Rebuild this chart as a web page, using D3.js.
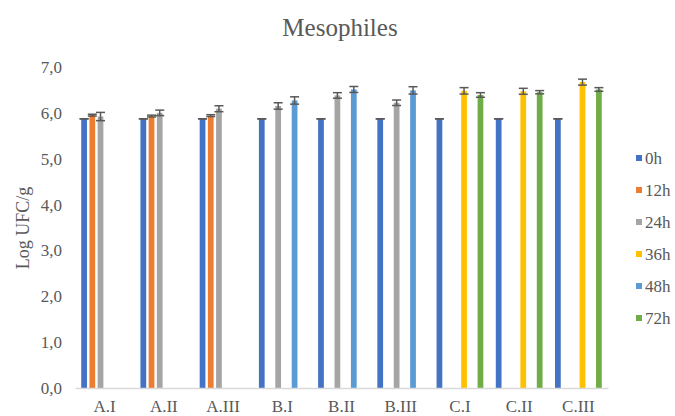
<!DOCTYPE html>
<html>
<head>
<meta charset="utf-8">
<script src="https://cdn.jsdelivr.net/npm/d3@7"></script>
<style>
  body { margin: 0; background: #fff; }
  svg text { font-family: "Liberation Serif", "DejaVu Serif", serif !important; fill: #595959; }
</style>
</head>
<body>
<div id="chart"></div>
<script>
let categories = ["A.I", "A.II", "A.III", "B.I", "B.II", "B.III", "C.I", "C.II", "C.III"];
let seriesNames = ["0h", "12h", "24h", "36h", "48h", "72h"];
let seriesColors = ["#4472C4", "#ED7D31", "#A5A5A5", "#FFC000", "#5B9BD5", "#70AD47"];

let values0h  = [5.87, 5.87, 5.87, 5.87, 5.87, 5.87, 5.87, 5.87, 5.87];
let values12h = [5.95, 5.93, 5.94, null, null, null, null, null, null];
let values24h = [5.92, 6.00, 6.09, 6.15, 6.38, 6.22, null, null, null];
let values36h = [null, null, null, null, null, null, 6.48, 6.47, 6.67];
let values48h = [null, null, null, 6.27, 6.51, 6.49, null, null, null];
let values72h = [null, null, null, null, null, null, 6.39, 6.45, 6.51];

let errors0h  = [0, 0, 0, 0, 0, 0, 0, 0, 0];
let errors12h = [0.02, 0.02, 0.02, null, null, null, null, null, null];
let errors24h = [0.09, 0.06, 0.065, 0.07, 0.06, 0.06, null, null, null];
let errors36h = [null, null, null, null, null, null, 0.07, 0.065, 0.065];
let errors48h = [null, null, null, 0.08, 0.065, 0.08, null, null, null];
let errors72h = [null, null, null, null, null, null, 0.05, 0.035, 0.04];

let yTicks = [0, 1, 2, 3, 4, 5, 6, 7];

let allValues = [values0h, values12h, values24h, values36h, values48h, values72h];
let allErrors = [errors0h, errors12h, errors24h, errors36h, errors48h, errors72h];

let width = 675, height = 416;
let plot = {left: 75, right: 608, top: 67, bottom: 388};
let serif = "'Liberation Serif', 'DejaVu Serif', serif";

let svg = d3.select("#chart").append("svg")
  .attr("width", width)
  .attr("height", height)
  .attr("font-family", serif);

let xScale = d3.scaleBand()
  .domain(categories)
  .range([plot.left, plot.right]);

let seriesScale = d3.scaleBand()
  .domain(seriesNames)
  .range([5, xScale.bandwidth() - 5])
  .paddingInner(0.3)
  .paddingOuter(0.15);

let yScale = d3.scaleLinear()
  .domain([0, 7])
  .range([plot.bottom, plot.top]);

// title
svg.append("text")
  .attr("x", 340)
  .attr("y", 36)
  .attr("text-anchor", "middle")
  .attr("font-family", serif)
  .style("font-size", "25px")
  .text("Mesophiles");

// y axis labels
let yAxis = svg.append("g")
  .attr("transform", "translate(" + plot.left + ",0)")
  .call(d3.axisLeft(yScale).tickValues(yTicks).tickSize(0).tickPadding(13)
    .tickFormat(d => d3.format(".1f")(d).replace(".", ",")));
yAxis.attr("font-family", serif);
yAxis.select(".domain").remove();
yAxis.selectAll("text")
  .style("font-size", "17px")
  .attr("fill", "#595959");

svg.append("text")
  .attr("transform", "translate(29,228) rotate(-90)")
  .attr("text-anchor", "middle")
  .attr("font-family", serif)
  .style("font-size", "18px")
  .text("Log UFC/g");

// bars
let groups = svg.append("g").selectAll("g")
  .data(seriesNames)
  .enter()
  .append("g");

groups.each(function(name, s) {
  let rows = categories.map((c, i) => ({cat: c, value: allValues[s][i], err: allErrors[s][i]}))
    .filter(d => d.value !== null);
  let g = d3.select(this);

  g.selectAll("rect")
    .data(rows)
    .enter()
    .append("rect")
    .attr("x", d => xScale(d.cat) + seriesScale(name))
    .attr("y", d => yScale(d.value))
    .attr("width", seriesScale.bandwidth())
    .attr("height", d => yScale(0) - yScale(d.value))
    .attr("fill", seriesColors[s]);

  let cx = d => xScale(d.cat) + seriesScale(name) + seriesScale.bandwidth() / 2;
  let errG = g.selectAll(".err")
    .data(rows)
    .enter()
    .append("g")
    .attr("class", "err")
    .attr("stroke", "#595959")
    .attr("stroke-width", 1.5);
  errG.append("line")
    .attr("x1", cx).attr("x2", cx)
    .attr("y1", d => yScale(d.value + d.err))
    .attr("y2", d => yScale(d.value - d.err));
  errG.append("line")
    .attr("x1", d => cx(d) - 4.5).attr("x2", d => cx(d) + 4.5)
    .attr("y1", d => yScale(d.value + d.err))
    .attr("y2", d => yScale(d.value + d.err));
  errG.append("line")
    .attr("x1", d => cx(d) - 4.5).attr("x2", d => cx(d) + 4.5)
    .attr("y1", d => yScale(d.value - d.err))
    .attr("y2", d => yScale(d.value - d.err));
});

// x axis
let xAxis = svg.append("g")
  .attr("transform", "translate(0," + plot.bottom + ")")
  .call(d3.axisBottom(xScale).tickSize(0).tickPadding(12));
xAxis.attr("font-family", serif);
xAxis.select(".domain").attr("stroke", "#d9d9d9").attr("stroke-width", 1.5);
xAxis.selectAll("text")
  .style("font-size", "17px")
  .attr("fill", "#595959");

// legend
let legend = svg.append("g").selectAll("g")
  .data(seriesNames)
  .enter()
  .append("g")
  .attr("transform", (d, i) => "translate(636," + (158 + i * 32) + ")");
legend.append("rect")
  .attr("x", 0).attr("y", -3)
  .attr("width", 6).attr("height", 6)
  .attr("fill", (d, i) => seriesColors[i]);
legend.append("text")
  .attr("x", 9)
  .attr("dy", "0.35em")
  .attr("font-family", serif)
  .style("font-size", "17px")
  .text(d => d);
</script>
</body>
</html>
